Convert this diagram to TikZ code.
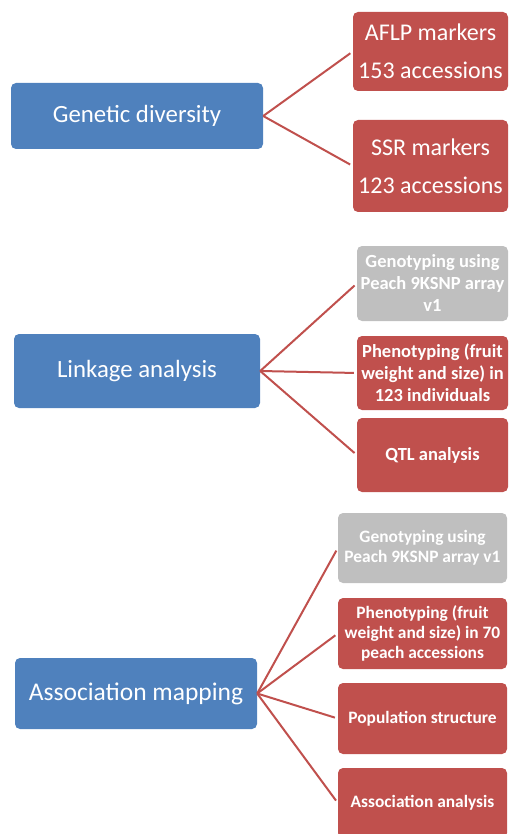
\documentclass[tikz,border=0pt]{standalone}
\usepackage{fontspec}
\setmainfont{Carlito}
\usepackage{xcolor}
\usepackage{tikz}
\definecolor{hubblue}{RGB}{79,129,189}
\definecolor{leafred}{RGB}{192,80,77}
\definecolor{leafgrey}{RGB}{191,191,191}
\tikzset{
  hub/.style  ={rectangle,rounded corners=5pt,fill=hubblue,text=white,inner sep=0pt,align=center,font=\fontsize{24.8}{30}\selectfont},
  leaf/.style ={rectangle,rounded corners=5pt,fill=leafred,text=white,inner sep=0pt,align=center},
  leafg/.style={leaf,fill=leafgrey},
  big/.style  ={font=\fontsize{24}{38}\selectfont},
  mid/.style  ={font=\bfseries\fontsize{18.5}{22}\selectfont},
  sml/.style  ={font=\bfseries\fontsize{17.4}{20}\selectfont},
  link/.style ={leafred,line width=2pt,shorten >=3pt},
}
\begin{document}
\begin{tikzpicture}[x=1pt,y=-1pt]
  \useasboundingbox (0,0) rectangle (509,834);
  \node[hub,minimum width=252pt,minimum height=66pt] (gd) at (137,116){Genetic diversity};
  \node[leaf,big,minimum width=155pt,minimum height=79pt] (aflp) at (430.5,51.5){AFLP markers\\153 accessions};
  \node[leaf,big,minimum width=155pt,minimum height=92pt] (ssr) at (430.5,166){SSR markers\\123 accessions};
  \draw[link] (gd.east)--(aflp.west); \draw[link] (gd.east)--(ssr.west);

  \node[hub,minimum width=246pt,minimum height=74pt] (la) at (137,371){Linkage analysis};
  \node[leafg,mid,minimum width=151pt,minimum height=75pt] (lgeno) at (432.5,283.5){Genotyping using\\Peach 9KSNP array\\v1};
  \node[leaf,mid,minimum width=151pt,minimum height=74pt] (lpheno) at (432.5,373){Phenotyping (fruit\\weight and size) in\\123 individuals};
  \node[leaf,mid,minimum width=151pt,minimum height=74pt] (qtl) at (432.5,455){QTL analysis};
  \draw[link] (la.east)--(lgeno.west); \draw[link] (la.east)--(lpheno.west);
  \draw[link] (la.east)--(qtl.west);

  \node[hub,font=\fontsize{25.5}{30}\selectfont,minimum width=242pt,minimum height=71pt] (am) at (136,693.5){Association mapping};
  \node[leafg,sml,minimum width=169pt,minimum height=70pt] (ageno) at (422.5,548){Genotyping using\\Peach 9KSNP array v1};
  \node[leaf,sml,minimum width=169pt,minimum height=71pt] (apheno) at (422.5,633.5){Phenotyping (fruit\\weight and size) in 70\\peach accessions};
  \node[leaf,sml,minimum width=169pt,minimum height=71pt] (pop) at (422.5,718.5){Population structure};
  \node[leaf,sml,minimum width=169pt,minimum height=70pt] (aa) at (422.5,803){Association analysis};
  \draw[link] (am.east)--(ageno.west); \draw[link] (am.east)--(apheno.west);
  \draw[link] (am.east)--(pop.west); \draw[link] (am.east)--(aa.west);
\end{tikzpicture}
\end{document}
